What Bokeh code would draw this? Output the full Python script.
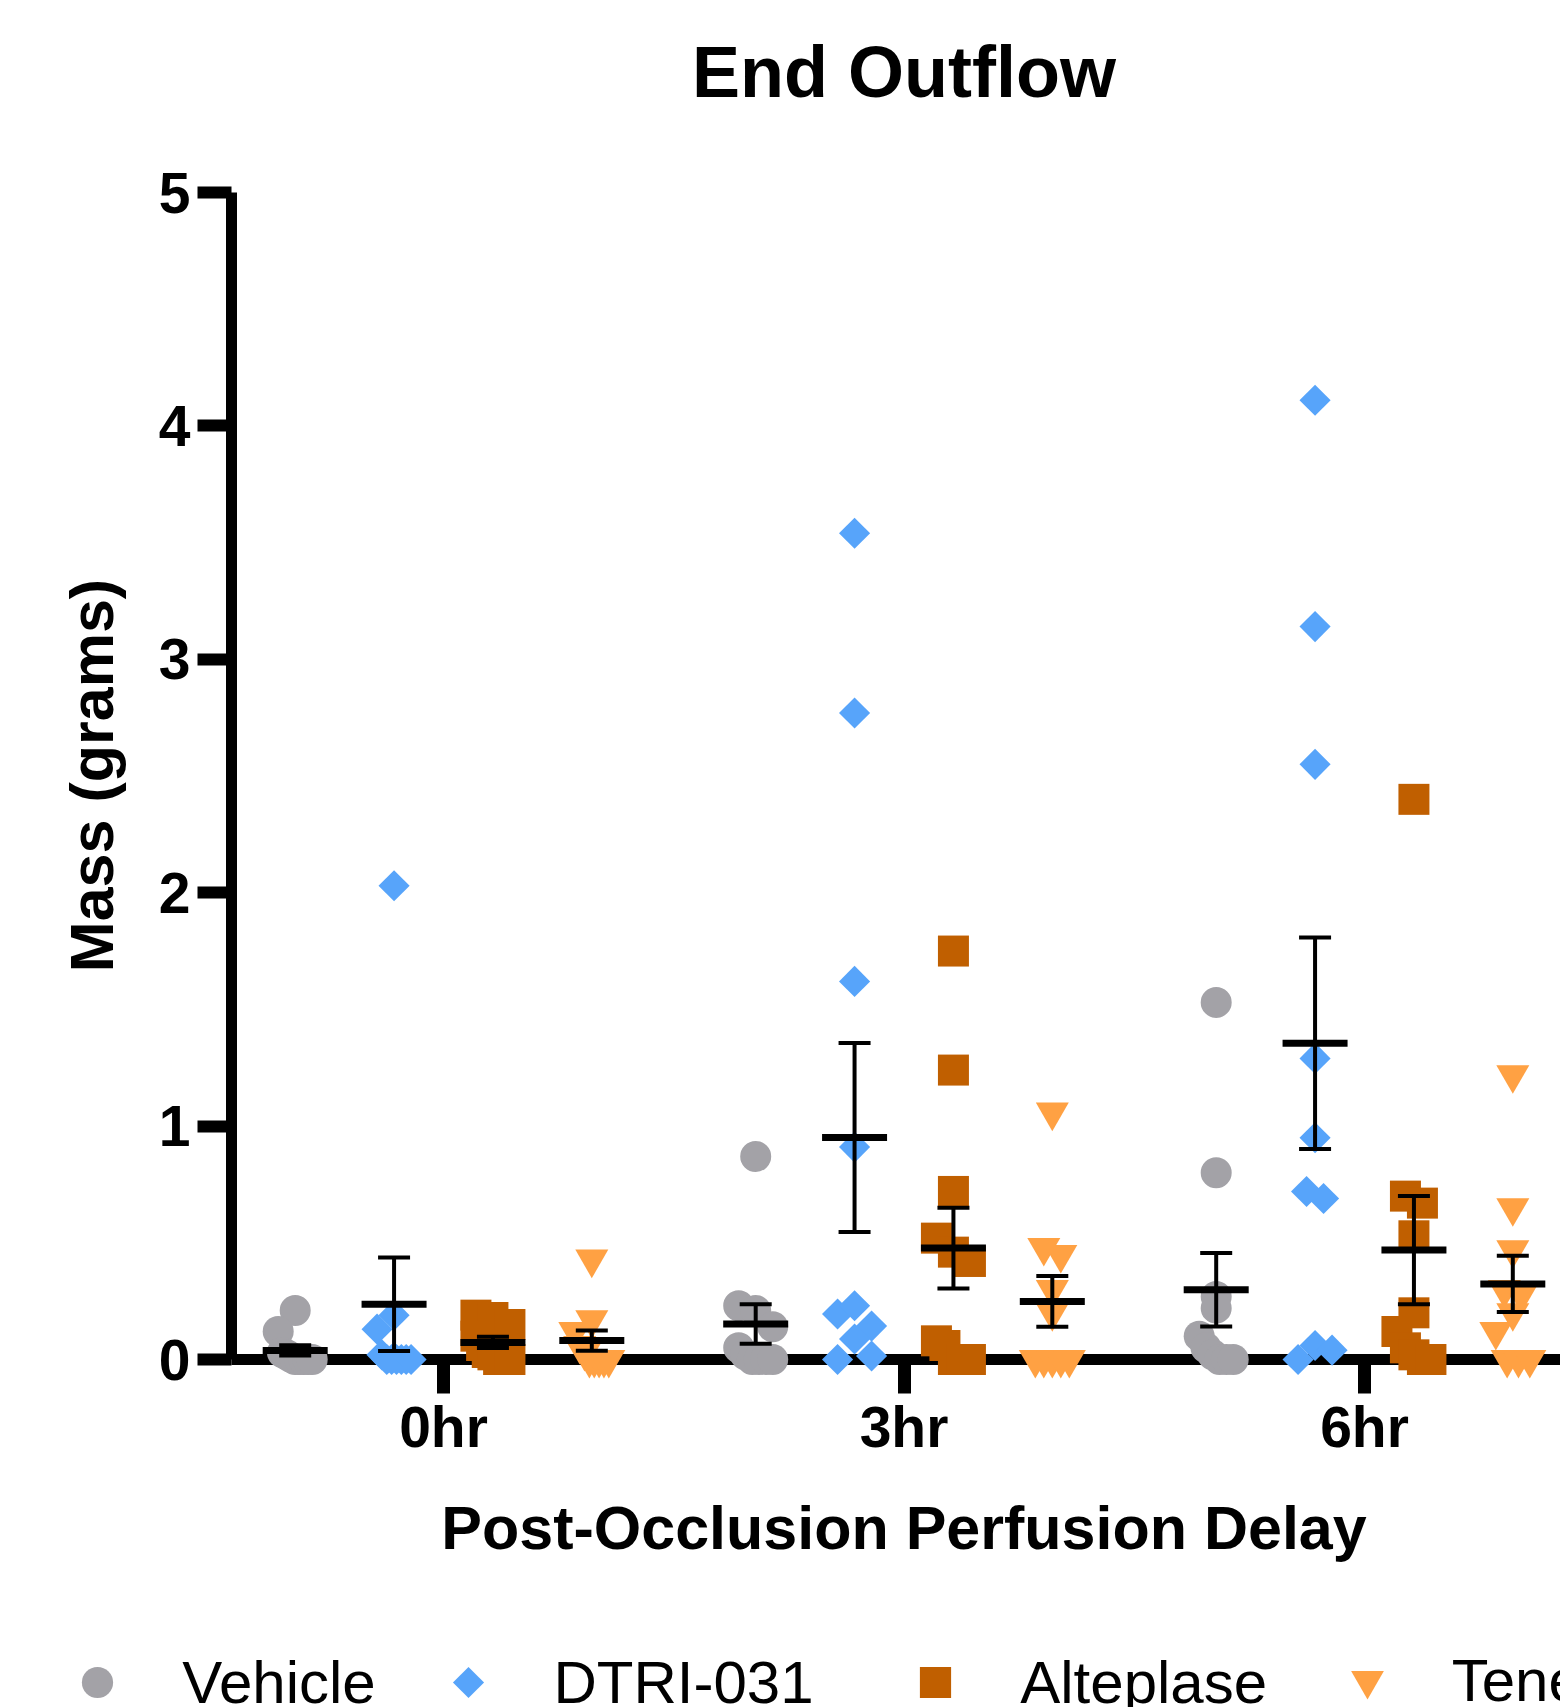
import numpy as np
from bokeh.plotting import figure
from bokeh.models import FixedTicker, Legend, LegendItem, Label, Range1d
from bokeh.embed import file_html
from bokeh.resources import INLINE

# ---------------- data ----------------
title_text = "End Outflow"
y_label = "Mass (grams)"
x_label = "Post-Occlusion Perfusion Delay"
delays = ["0hr", "3hr", "6hr"]
treatments = ["Vehicle", "DTRI-031", "Alteplase", "Tenecteplase"]
y_ticks = [0, 1, 2, 3, 4, 5]

vehicle_0hr = [0.21, 0.12, 0.03, 0.02, 0.01, 0.0, 0.0, 0.0, 0.0, 0.0]
vehicle_3hr = [0.87, 0.23, 0.21, 0.14, 0.05, 0.02, 0.0, 0.0, 0.0, 0.0]
vehicle_6hr = [1.53, 0.80, 0.27, 0.22, 0.10, 0.05, 0.02, 0.0, 0.0, 0.0]

dtri_0hr = [2.03, 0.19, 0.13, 0.02, 0.0, 0.0, 0.0, 0.0, 0.0, 0.0]
dtri_3hr = [3.54, 2.77, 1.62, 0.91, 0.195, 0.23, 0.143, 0.0, 0.088, 0.015]
dtri_6hr = [4.11, 3.14, 2.55, 1.29, 0.95, 0.72, 0.69, 0.0, 0.06, 0.04]

alteplase_0hr = [0.19, 0.18, 0.15, 0.10, 0.06, 0.03, 0.02, 0.0, 0.0, 0.0]
alteplase_3hr = [1.75, 1.24, 0.72, 0.52, 0.46, 0.42, 0.08, 0.06, 0.0, 0.0, 0.0]
alteplase_6hr = [2.40, 0.70, 0.67, 0.53, 0.20, 0.12, 0.05, 0.02, 0.0, 0.0]

tenecteplase_0hr = [0.43, 0.17, 0.12, 0.06, 0.03, 0.0, 0.0, 0.0, 0.0, 0.0]
tenecteplase_3hr = [1.06, 0.48, 0.45, 0.30, 0.20, 0.0, 0.0, 0.0, 0.0, 0.0]
tenecteplase_6hr = [1.22, 0.65, 0.47, 0.30, 0.28, 0.20, 0.12, 0.0, 0.0, 0.0]

series = {
    "Vehicle": [vehicle_0hr, vehicle_3hr, vehicle_6hr],
    "DTRI-031": [dtri_0hr, dtri_3hr, dtri_6hr],
    "Alteplase": [alteplase_0hr, alteplase_3hr, alteplase_6hr],
    "Tenecteplase": [tenecteplase_0hr, tenecteplase_3hr, tenecteplase_6hr],
}

# ---------------- styles / layout ----------------
colors = {"Vehicle": "#a3a2a7", "DTRI-031": "#57a4fa",
          "Alteplase": "#c05f00", "Tenecteplase": "#ffa143"}
marker_kind = {"Vehicle": ("circle", 31, 0.0), "DTRI-031": ("square", 22, np.pi / 4),
               "Alteplase": ("square", 31, 0.0), "Tenecteplase": ("inverted_triangle", 33, 0.0)}
FONT = "Liberation Sans"

W, H = 1560, 1707
PX_X, PX_Y = 460.5, 233.4            # pixels per data unit
X0_PX, Y0_PX = 443.0, 1359.0          # pixel position of (0hr, 0)
x_start, x_end = -X0_PX / PX_X, (W - X0_PX) / PX_X
y_start, y_end = (Y0_PX - H) / PX_Y, Y0_PX / PX_Y
y_axis_at = (231.0 - X0_PX) / PX_X    # where the y axis crosses
col_width = 0.2147


def dx(px):  # pixel column -> data x
    return (px - X0_PX) / PX_X


def dy(py):  # pixel row -> data y
    return (Y0_PX - py) / PX_Y


p = figure(width=W, height=H, output_backend="svg", toolbar_location=None,
           x_range=Range1d(x_start, x_end), y_range=Range1d(y_start, y_end),
           min_border=0)
p.outline_line_color = None
p.grid.visible = False
p.background_fill_color = "white"
p.border_fill_color = "white"

# x-axis line at y = 0 (drawn beneath the points)
p.segment(x0=[y_axis_at], y0=[0], x1=[x_end], y1=[0], line_color="black", line_width=11)


def swarm(values, bin_h=31 / PX_Y, max_span=34 / PX_X, max_step=17 / PX_X):
    vals = np.asarray(values, dtype=float)
    bins = np.floor(vals / bin_h + 1e-9).astype(int)
    offs = np.zeros(len(vals))
    for b in np.unique(bins):
        idx = np.where(bins == b)[0]
        k = len(idx)
        if k > 1:
            step = min(max_step, max_span / (k - 1))
            offs[idx] = (np.arange(k) - (k - 1) / 2) * step
    return offs


renderers = {}
bar_x, bar_m, bar_s = [], [], []
for ti, name in enumerate(treatments):
    xs, ys = [], []
    off = (ti - 1.5) * col_width
    for gi, vals in enumerate(series[name]):
        center = gi + off
        xs.extend(list(center + swarm(vals)))
        ys.extend(vals)
        arr = np.asarray(vals, dtype=float)
        bar_x.append(center)
        bar_m.append(arr.mean())
        bar_s.append(arr.std(ddof=1) / np.sqrt(len(arr)))
    mk, sz, ang = marker_kind[name]
    renderers[name] = p.scatter(xs, ys, marker=mk, size=sz, angle=ang,
                                fill_color=colors[name], line_color=None)

bar_x = np.array(bar_x); bar_m = np.array(bar_m); bar_s = np.array(bar_s)
p.segment(x0=bar_x, y0=bar_m - bar_s, x1=bar_x, y1=bar_m + bar_s,
          line_color="black", line_width=4)
p.scatter(np.concatenate([bar_x, bar_x]), np.concatenate([bar_m - bar_s, bar_m + bar_s]),
          marker="dash", size=32, line_color="black", line_width=4)
p.scatter(bar_x, bar_m, marker="dash", size=65, line_color="black", line_width=7)

# axes (placed inside the canvas at fixed locations)
yax = p.yaxis[0]
yax.fixed_location = y_axis_at
yax.ticker = FixedTicker(ticks=y_ticks)
yax.bounds = (0, 5)
yax.axis_line_width = 11
yax.axis_line_color = "black"
yax.major_tick_in = 0
yax.major_tick_out = 34
yax.major_tick_line_width = 12
yax.minor_tick_line_color = None
yax.major_label_standoff = 7
yax.major_label_text_font = FONT
yax.major_label_text_font_style = "bold"
yax.major_label_text_font_size = "57px"
yax.major_label_text_color = "black"

xax = p.xaxis[0]
xax.fixed_location = 0
xax.ticker = FixedTicker(ticks=list(range(len(delays))))
xax.major_label_overrides = {i: d for i, d in enumerate(delays)}
xax.axis_line_color = None
xax.major_tick_in = 0
xax.major_tick_out = 34
xax.major_tick_line_width = 13
xax.minor_tick_line_color = None
xax.major_label_standoff = 1
xax.major_label_text_font = FONT
xax.major_label_text_font_style = "bold"
xax.major_label_text_font_size = "57px"
xax.major_label_text_color = "black"

mid = (len(delays) - 1) / 2
p.add_layout(Label(x=mid, y=dy(71), text=title_text, text_align="center",
                   text_baseline="alphabetic", text_font=FONT, text_font_style="bold",
                   text_font_size="72px", text_color="black"))
p.add_layout(Label(x=mid, y=dy(1527), text=x_label, text_align="center",
                   text_baseline="alphabetic", text_font=FONT, text_font_style="bold",
                   text_font_size="61px", text_color="black"))
p.add_layout(Label(x=dx(91), y=dy(775), text=y_label,
                   angle=np.pi / 2, text_align="center", text_baseline="alphabetic",
                   text_font=FONT, text_font_style="bold", text_font_size="61px",
                   text_color="black"))

# legend: one legend per entry, along the bottom edge
legend_cx = [97, 468, 935, 1367]       # marker centres, px from left
legend_cy_px = 1682                    # marker centre, px from top
ghost = p.scatter([], [], marker="square", size=22, fill_color=None, line_color=None)
for name, cx in zip(treatments, legend_cx):
    g = marker_kind[name][1] / 0.4
    rend = renderers[name]
    if marker_kind[name][2] != 0.0:
        # rotated marker: legend glyph left blank, the rotated marker is drawn in its place
        rend = ghost
        mk, sz, ang = marker_kind[name]
        p.scatter([dx(cx)], [dy(legend_cy_px)], marker=mk, size=sz, angle=ang,
                  fill_color=colors[name], line_color=None)
    leg = Legend(items=[LegendItem(label=name, renderers=[rend])],
                 location=(cx - g / 2, (H - legend_cy_px) - 39), orientation="horizontal",
                 glyph_width=int(round(g)), glyph_height=int(round(g)), label_height=78,
                 label_standoff=int(round(85 - g / 2)), padding=0, margin=0, spacing=0,
                 border_line_color=None, background_fill_alpha=0,
                 label_text_font=FONT, label_text_font_size="60px", label_text_color="black")
    p.add_layout(leg)

open("out.html", "w").write(file_html(p, INLINE))
